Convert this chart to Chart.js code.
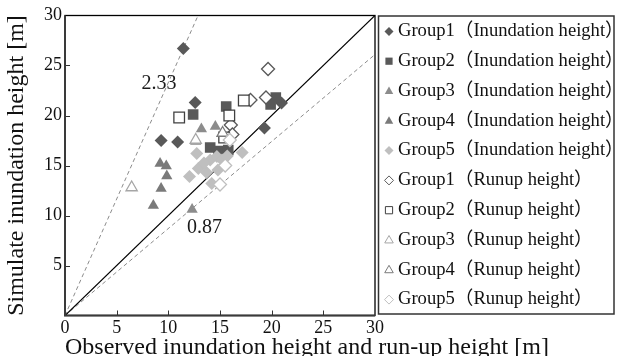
<!DOCTYPE html>
<html>
<head>
<meta charset="utf-8">
<script src="https://cdn.jsdelivr.net/npm/chart.js@4.4.1/dist/chart.umd.min.js"></script>
<style>
  html, body { margin: 0; padding: 0; background: #fff; }
  #wrap { width: 617px; height: 356px; }
</style>
</head>
<body>
<div id="wrap"><canvas id="heightChart" width="617" height="356"></canvas></div>
<script>
// values (x = observed, y = simulated) [m]
const g1InundX = [11.45, 12.6, 9.3, 10.9, 19.3, 20.95];
const g1InundY = [26.7, 21.3, 17.5, 17.35, 18.75, 21.25];
const g2InundX = [12.4, 15.6, 20.4, 19.9, 14.05, 14.85, 15.8];
const g2InundY = [20.1, 20.9, 21.8, 21.1, 16.8, 16.45, 16.55];
const g3InundX = [13.2, 14.55, 12.65, 15.25, 12.3];
const g3InundY = [18.65, 18.9, 17.4, 18.2, 10.6];
const g4InundX = [9.2, 9.8, 9.85, 9.3, 8.55];
const g4InundY = [15.2, 14.95, 13.95, 12.7, 11.0];
const g5InundX = [12.05, 12.9, 13.7, 14.2, 12.75, 14.05, 14.7, 17.15, 13.45, 15.2, 15.7, 14.8];
const g5InundY = [13.9, 14.7, 14.3, 13.2, 16.2, 15.55, 15.9, 16.3, 15.25, 15.55, 15.95, 14.55];

const g1RunupX = [19.65, 17.95, 19.45, 16.05, 16.2];
const g1RunupY = [24.65, 21.55, 21.8, 19.05, 18.1];
const g2RunupX = [11.05, 17.3, 15.9, 15.4];
const g2RunupY = [19.8, 21.5, 20.0, 17.8];
const g3RunupX = [6.45, 12.65];
const g3RunupY = [12.8, 17.55];
const g4RunupX = [15.25];
const g4RunupY = [18.25];
const g5RunupX = [15.5, 15.0, 15.95];
const g5RunupY = [15.0, 13.1, 17.55];

const seriesLabels = [
  'Group1（Inundation height）', 'Group2（Inundation height）', 'Group3（Inundation height）',
  'Group4（Inundation height）', 'Group5（Inundation height）',
  'Group1（Runup height）', 'Group2（Runup height）', 'Group3（Runup height）',
  'Group4（Runup height）', 'Group5（Runup height）'
];
const tickValues = [0, 5, 10, 15, 20, 25, 30];
const fitSlopes = [2.33, 0.87];
const fitLabels = ['2.33', '0.87'];
const fitLabelAt = [[9.1, 23.15], [13.5, 8.75]];
const xTitle = 'Observed inundation height and run-up height [m]';
const yTitle = 'Simulate inundation height [m]';

const serif = "'Liberation Serif', 'Noto Sans CJK JP', serif";

function pts(xs, ys) {
  return xs.map((x, i) => ({x: x, y: ys[i]}));
}

// marker styles for the 10 groups
const markerStyles = [
  {shape: 'diamond',  fill: '#595959', stroke: '#595959', r: 6.5},
  {shape: 'square',   fill: '#595959', stroke: '#595959', r: 7.5},
  {shape: 'triangle', fill: '#8c8c8c', stroke: '#8c8c8c', r: 6.5},
  {shape: 'triangle', fill: '#7a7a7a', stroke: '#7a7a7a', r: 6.5},
  {shape: 'diamond',  fill: '#bfbfbf', stroke: '#bfbfbf', r: 6.5},
  {shape: 'diamond',  fill: '#ffffff', stroke: '#595959', r: 6.5},
  {shape: 'square',   fill: '#ffffff', stroke: '#404040', r: 7.5},
  {shape: 'triangle', fill: '#ffffff', stroke: '#a6a6a6', r: 6.5},
  {shape: 'triangle', fill: '#ffffff', stroke: '#7a7a7a', r: 6.5},
  {shape: 'diamond',  fill: '#ffffff', stroke: '#bfbfbf', r: 6.5}
];
const chartStyle = {diamond: 'rectRot', square: 'rect', triangle: 'triangle'};

const seriesData = [
  pts(g1InundX, g1InundY), pts(g2InundX, g2InundY), pts(g3InundX, g3InundY),
  pts(g4InundX, g4InundY), pts(g5InundX, g5InundY),
  pts(g1RunupX, g1RunupY), pts(g2RunupX, g2RunupY), pts(g3RunupX, g3RunupY),
  pts(g4RunupX, g4RunupY), pts(g5RunupX, g5RunupY)
];

const datasets = seriesData.map((d, i) => ({
  label: seriesLabels[i],
  data: d,
  pointStyle: chartStyle[markerStyles[i].shape],
  pointRadius: markerStyles[i].r,
  pointHoverRadius: markerStyles[i].r,
  backgroundColor: markerStyles[i].fill,
  borderColor: markerStyles[i].stroke,
  pointBorderWidth: i < 5 ? 0 : 1.3,
  order: 20 - i
}));

// 1:1 line and the two slope lines
const maxVal = tickValues[tickValues.length - 1];
datasets.push({
  type: 'line', label: '1:1', data: [{x: 0, y: 0}, {x: maxVal, y: maxVal}],
  borderColor: '#000', borderWidth: 1.2, pointRadius: 0, order: 100, isRef: true
});
fitSlopes.forEach(k => {
  const endX = Math.min(maxVal, maxVal / k);
  datasets.push({
    type: 'line', label: String(k), data: [{x: 0, y: 0}, {x: endX, y: endX * k}],
    borderColor: '#8c8c8c', borderWidth: 1, borderDash: [4, 3], pointRadius: 0,
    order: 100, isRef: true
  });
});

function drawMarker(ctx, st, x, y, r) {
  ctx.beginPath();
  if (st.shape === 'diamond') {
    ctx.moveTo(x, y - r); ctx.lineTo(x + r, y); ctx.lineTo(x, y + r); ctx.lineTo(x - r, y);
  } else if (st.shape === 'square') {
    ctx.rect(x - r * 0.8, y - r * 0.8, r * 1.6, r * 1.6);
  } else {
    ctx.moveTo(x, y - r); ctx.lineTo(x + r * 0.95, y + r * 0.65); ctx.lineTo(x - r * 0.95, y + r * 0.65);
  }
  ctx.closePath();
  ctx.fillStyle = st.fill;
  ctx.fill();
  if (st.fill === '#ffffff') {
    ctx.lineWidth = 1;
    ctx.strokeStyle = st.stroke;
    ctx.stroke();
  }
}

const framePlugin = {
  id: 'frame',
  afterDatasetsDraw(chart) {
    const {ctx, chartArea: a, scales: {x, y}} = chart;
    ctx.save();
    // slope labels
    ctx.font = '20px ' + serif;
    ctx.fillStyle = '#1a1a1a';
    ctx.textAlign = 'center';
    ctx.textBaseline = 'middle';
    fitLabels.forEach((t, i) => {
      ctx.fillText(t, x.getPixelForValue(fitLabelAt[i][0]), y.getPixelForValue(fitLabelAt[i][1]));
    });
    // inward tick marks
    ctx.beginPath();
    ctx.strokeStyle = '#333';
    ctx.lineWidth = 1;
    tickValues.slice(1, -1).forEach(v => {
      const px = Math.round(x.getPixelForValue(v)) + 0.5;
      ctx.moveTo(px, a.bottom);
      ctx.lineTo(px, a.bottom - 5);
      const py = Math.round(y.getPixelForValue(v)) + 0.5;
      ctx.moveTo(a.left, py);
      ctx.lineTo(a.left + 5, py);
    });
    ctx.stroke();
    // plot frame
    ctx.strokeStyle = '#000';
    ctx.lineWidth = 1.3;
    ctx.strokeRect(a.left, a.top, a.width, a.height);
    ctx.beginPath();
    ctx.strokeStyle = '#3a3a3a';
    ctx.lineWidth = 2;
    ctx.moveTo(a.left, a.top);
    ctx.lineTo(a.left, a.bottom);
    ctx.lineTo(a.right, a.bottom);
    ctx.stroke();
    // axis titles (drawn here so they are not squeezed to the axis length)
    ctx.fillStyle = '#111';
    ctx.font = '24px ' + serif;
    ctx.textAlign = 'left';
    ctx.textBaseline = 'alphabetic';
    ctx.fillText(xTitle, a.left, chart.height - 2.5);
    ctx.translate(17, (a.top + a.bottom) / 2);
    ctx.rotate(-Math.PI / 2);
    ctx.textAlign = 'center';
    ctx.textBaseline = 'middle';
    ctx.fillText(yTitle, 0, 0);
    ctx.restore();
  }
};

const legendPlugin = {
  id: 'boxLegend',
  afterDraw(chart) {
    const {ctx, chartArea: a} = chart;
    const left = a.right + 3.5, top = a.top + 0.5;
    const right = chart.width - 3, bottom = a.bottom - 1.5;
    ctx.save();
    ctx.strokeStyle = '#333';
    ctx.lineWidth = 1.5;
    ctx.strokeRect(left, top, right - left, bottom - top);
    const items = chart.data.datasets.filter(d => !d.isRef);
    const step = (bottom - top) / items.length;
    ctx.font = '18.6px ' + serif;
    ctx.textBaseline = 'middle';
    ctx.textAlign = 'left';
    items.forEach((d, i) => {
      const cy = top + step * (i + 0.5) + 0.5;
      drawMarker(ctx, markerStyles[i], left + 10.5, cy, 4.5);
      ctx.fillStyle = '#111';
      ctx.fillText(d.label, left + 19.5, cy);
    });
    ctx.restore();
  }
};

new Chart(document.getElementById('heightChart'), {
  type: 'scatter',
  data: {datasets: datasets},
  options: {
    responsive: false,
    animation: false,
    events: [],
    layout: {padding: {left: 0, top: 15.5, right: 617 - 375, bottom: 0}},
    plugins: {legend: {display: false}, tooltip: {enabled: false}},
    scales: {
      x: {
        type: 'linear', min: 0, max: 30,
        afterBuildTicks: s => { s.ticks = tickValues.map(v => ({value: v})); },
        afterFit: s => { s.height = 356 - 315.5; },
        grid: {display: false, drawTicks: false},
        border: {display: false},
        ticks: {padding: 2, color: '#111', font: {family: serif, size: 18}},
        title: {display: false}
      },
      y: {
        type: 'linear', min: 0, max: 30,
        afterBuildTicks: s => { s.ticks = tickValues.map(v => ({value: v})); },
        afterFit: s => { s.width = 65; },
        grid: {display: false, drawTicks: false},
        border: {display: false},
        ticks: {
          padding: 3, color: '#111', font: {family: serif, size: 18},
          callback: v => (v === 0 ? '' : v)
        },
        title: {display: false}
      }
    }
  },
  plugins: [framePlugin, legendPlugin]
});
</script>
</body>
</html>
